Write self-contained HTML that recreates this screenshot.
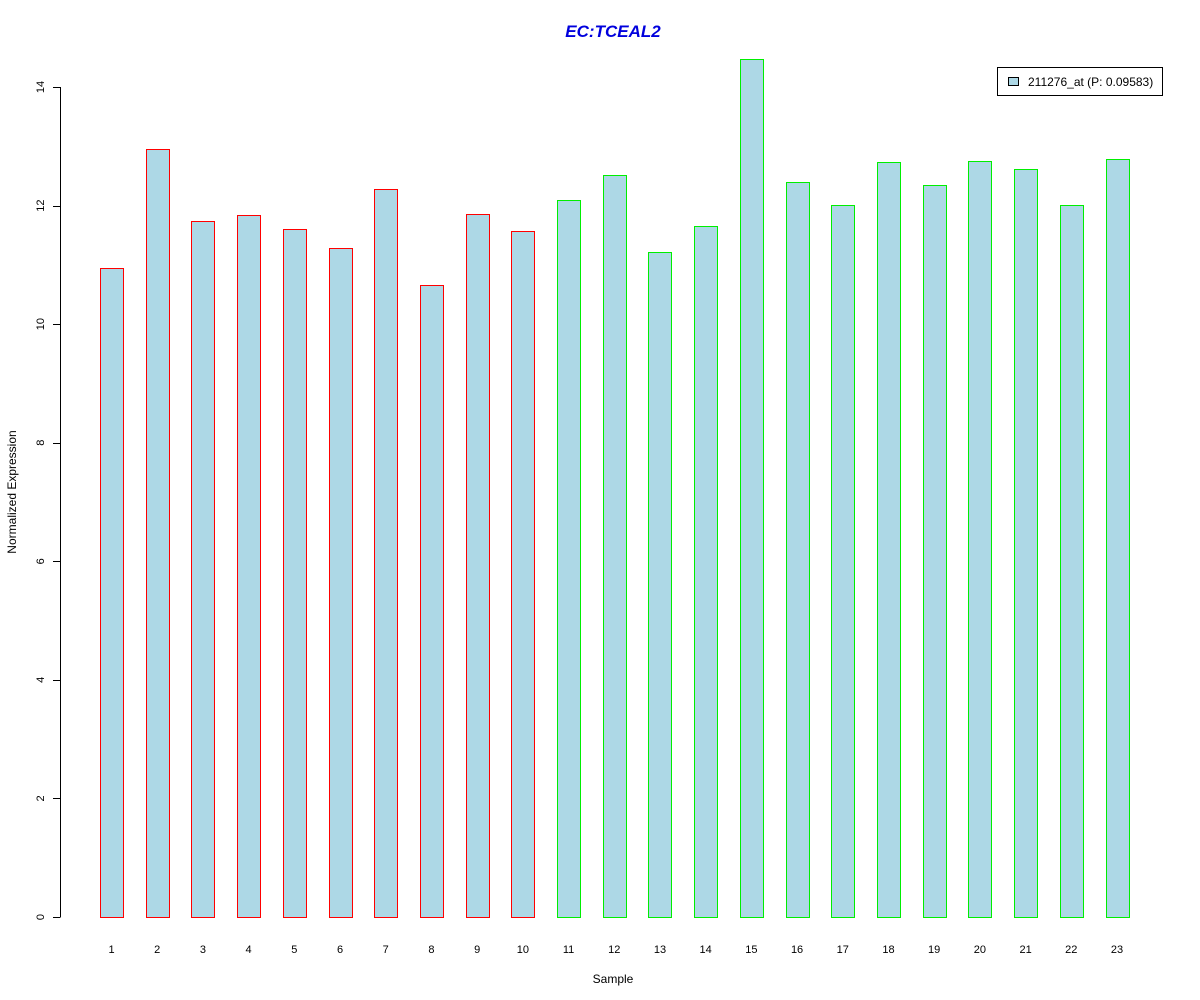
<!DOCTYPE html>
<html><head><meta charset="utf-8"><style>
body{margin:0;background:#fff;}
svg{display:block;font-family:"Liberation Sans",Arial,sans-serif;}
</style></head><body>
<svg id="chart" width="1200" height="1000">
<rect width="1200" height="1000" fill="#fff"/>
<text x="613" y="37" text-anchor="middle" font-size="17" font-weight="bold" font-style="italic" fill="#0000dd">EC:TCEAL2</text>
<text x="613" y="983" text-anchor="middle" font-size="12">Sample</text>
<text transform="translate(16,492) rotate(-90)" text-anchor="middle" font-size="12">Normalized Expression</text>
<g id="yaxis"></g>
<g id="bars"></g>
<g id="xlabels"></g>
<g>
<rect x="997.5" y="67.5" width="165" height="28" fill="#fff" stroke="#000"/>
<rect x="1008.5" y="77.5" width="10" height="8" fill="#add8e6" stroke="#000"/>
<text x="1028" y="86" font-size="12">211276_at (P: 0.09583)</text>
</g>
</svg>
<script>
const categories=["1","2","3","4","5","6","7","8","9","10","11","12","13","14","15","16","17","18","19","20","21","22","23"];
const values=[10.95,12.95,11.74,11.84,11.6,11.28,12.28,10.66,11.86,11.57,12.09,12.51,11.22,11.65,14.47,12.4,12.01,12.73,12.35,12.75,12.62,12.01,12.78];
const groups=["r","r","r","r","r","r","r","r","r","r","g","g","g","g","g","g","g","g","g","g","g","g","g"];
const yTicks=[0,2,4,6,8,10,12,14];
const NS="http://www.w3.org/2000/svg";
const y=v=>917-v*(830/14);
const xc=i=>111.5+i*(1117-111.5)/22;
const bw=23;
const ya=document.getElementById('yaxis');
function mk(t,a,p){const e=document.createElementNS(NS,t);for(const k in a)e.setAttribute(k,a[k]);p.appendChild(e);return e;}
const axl=mk('line',{x1:60.5,x2:60.5,y1:y(0),y2:y(14),stroke:'#000'},ya);


yTicks.forEach(t=>{
 const l=mk('line',{x1:53,x2:60.5,y1:Math.round(y(t))+0.5,y2:Math.round(y(t))+0.5,stroke:'#000'},ya);
 
 
 const tx=mk('text',{transform:`translate(44,${y(t)}) rotate(-90)`,'text-anchor':'middle','font-size':11},ya);
 tx.textContent=t;
 
 
});
const bg=document.getElementById('bars'),xl=document.getElementById('xlabels');
values.forEach((v,i)=>{
 const r=mk('rect',{x:Math.round(xc(i)-bw/2)+0.5,y:Math.round(y(v))+0.5,width:bw,height:Math.round(y(0))-Math.round(y(v)),fill:'#add8e6',stroke:groups[i]==='r'?'#ff0000':'#00ee00'},bg);
 
 
 const t=mk('text',{x:xc(i),y:953,'text-anchor':'middle','font-size':11},xl);
 t.textContent=categories[i];
 
 
});
</script>
</body></html>
